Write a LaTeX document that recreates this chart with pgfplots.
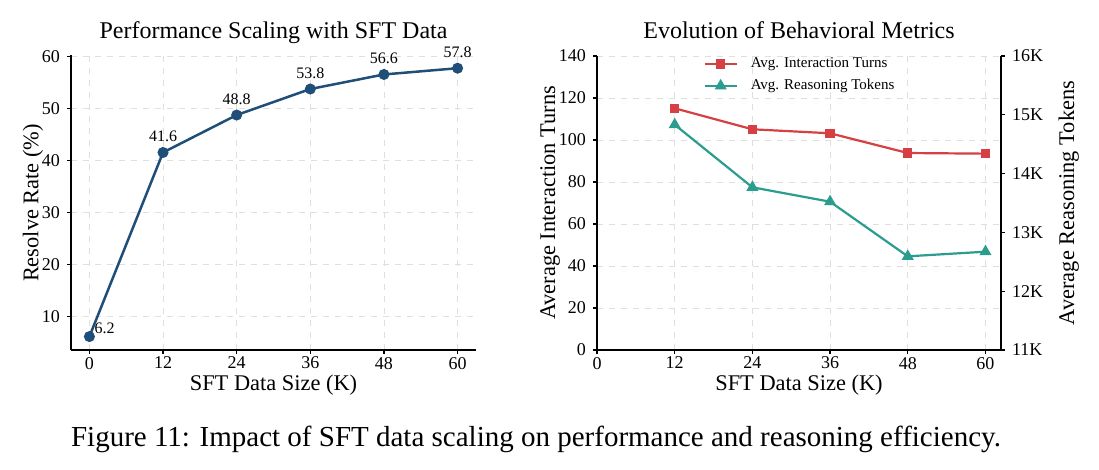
\documentclass[border=0pt]{standalone}
\usepackage{fontspec}
\setmainfont{Liberation Serif}
\usepackage{pgfplots}
\pgfplotsset{compat=1.18}
\definecolor{cblue}{RGB}{31,78,121}
\definecolor{cred}{RGB}{214,64,69}
\definecolor{cteal}{RGB}{42,157,143}
\pgfplotsset{myax/.style={
  scale only axis,
  axis line style={line width=0.7pt, black},
  tick style={black, line width=0.6pt},
  major tick length=2pt,
  tick align=outside,
  grid=major,
  grid style={dashed, gray!25, line width=0.35pt},
  ticklabel style={font=\fontsize{9}{10}\selectfont},
  xticklabel style={yshift=2pt},
  /pgf/number format/assume math mode=true,
  scaled ticks=false,
}}
\begin{document}
\begin{tikzpicture}
\useasboundingbox (0,0) rectangle (549.5pt,-235pt);
% ---------------- left panel ----------------
\begin{axis}[myax,
  at={(35.5pt,-175pt)}, anchor=south west,
  width=202.5pt, height=147.6pt,
  xmin=-3, xmax=63, ymin=3.62, ymax=60.38,
  axis x line*=bottom, axis y line*=left,
  xtick={0,12,24,36,48,60}, ytick={10,20,30,40,50,60},
]
\addplot[cblue, line width=1.25pt, mark=*, mark size=2.1pt]
  coordinates {(0,6.2)(12,41.6)(24,48.8)(36,53.8)(48,56.6)(60,57.8)};
\addplot[draw=none, mark=none, nodes near coords,
  every node near coord/.append style={anchor=base, yshift=5.3pt, inner sep=0pt, font=\fontsize{8}{9}\selectfont}]
  coordinates {(12,41.6)(24,48.8)(36,53.8)(48,56.6)(60,57.8)};
\addplot[draw=none, mark=none, nodes near coords,
  every node near coord/.append style={anchor=base west, xshift=2.4pt, yshift=1.7pt, inner sep=0pt, font=\fontsize{8}{9}\selectfont}]
  coordinates {(0,6.2)};
\end{axis}
% ---------------- right panel ----------------
\begin{axis}[myax,
  at={(298.5pt,-175pt)}, anchor=south west,
  width=202pt, height=147pt,
  xmin=0, xmax=62.4, ymin=0, ymax=140,
  axis x line*=bottom, axis y line*=left,
  xtick={0,12,24,36,48,60}, ytick={0,20,40,60,80,100,120,140},
]
\addplot[cred, line width=1.1pt, mark=square*, mark size=1.75pt]
  coordinates {(12,115.1)(24,105.1)(36,103.2)(48,93.8)(60,93.5)};
\end{axis}
\begin{axis}[myax, grid=none,
  at={(298.5pt,-175pt)}, anchor=south west,
  width=202pt, height=147pt,
  xmin=0, xmax=62.4, ymin=11000, ymax=16000,
  axis x line=none, axis y line*=right,
  ytick={11000,12000,13000,14000,15000,16000},
  yticklabels={11K,12K,13K,14K,15K,16K},
  legend style={at={(0.5,1)}, anchor=north, yshift=-0.5pt, draw=none, fill=none,
    font=\fontsize{7.5}{8}\selectfont, inner sep=0pt,
    nodes={inner sep=0pt, text height=5pt, text depth=1.5pt},
    row sep=4.5pt, column sep=6.5pt},
  legend cell align=left,
  legend image code/.code={\draw[mark repeat=2, mark phase=2] plot coordinates {(0pt,0pt)(8pt,0pt)(16pt,0pt)};},
]
\addlegendimage{cred, line width=1.1pt, mark=square*, mark size=1.75pt}
\addlegendentry{Avg. Interaction Turns}
\addplot[cteal, line width=1.1pt, mark=triangle*, mark size=2.4pt]
  coordinates {(12,14832)(24,13767)(36,13522)(48,12593)(60,12672)};
\addlegendentry{Avg. Reasoning Tokens}
\end{axis}
% ---------------- titles and labels ----------------
\node[anchor=base, inner sep=0pt, font=\fontsize{12}{14}\selectfont] at (136.75pt,-19.5pt) {Performance Scaling with SFT Data};
\node[anchor=base, inner sep=0pt, font=\fontsize{12}{14}\selectfont] at (399.5pt,-19.5pt) {Evolution of Behavioral Metrics};
\node[anchor=base, inner sep=0pt, font=\fontsize{11.2}{13}\selectfont] at (136.75pt,-195.3pt) {SFT Data Size (K)};
\node[anchor=base, inner sep=0pt, font=\fontsize{11.2}{13}\selectfont] at (399.5pt,-195.3pt) {SFT Data Size (K)};
\node[anchor=base, rotate=90, inner sep=0pt, font=\fontsize{11.2}{13}\selectfont] at (19.2pt,-101.5pt) {Resolve Rate (\%)};
\node[anchor=base, rotate=90, inner sep=0pt, font=\fontsize{11.2}{13}\selectfont] at (277.5pt,-101.5pt) {Average Interaction Turns};
\node[anchor=base, rotate=90, inner sep=0pt, font=\fontsize{11.2}{13}\selectfont] at (537pt,-101.5pt) {Average Reasoning Tokens};
\node[anchor=base, inner sep=0pt, font=\fontsize{14.5}{17}\selectfont] at (268pt,-223.3pt) {Figure 11: Impact of SFT data scaling on performance and reasoning efficiency.};
\end{tikzpicture}
\end{document}
